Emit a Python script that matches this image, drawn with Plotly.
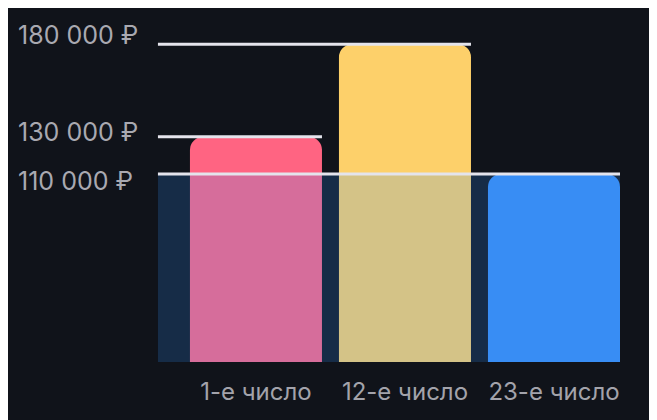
import plotly.graph_objects as go

categories = ["1-е число", "12-е число", "23-е число"]
values = [130000, 180000, 110000]
bar_colors = ["#ff6482", "#fdd06a", "#3a8cf2"]
label_texts = ["130 000 ₽", "180 000 ₽", "110 000 ₽"]
label_shifts = [5, 9, -7]

FONT = "Inter, Roboto, 'DejaVu Sans', sans-serif"
BG = "#10131a"
bw = 0.886
left_pad = 32 / 149.0

fig = go.Figure()
fig.add_trace(go.Bar(
    x=categories, y=values,
    marker=dict(color=bar_colors, line=dict(width=0), cornerradius=13),
    width=bw, hoverinfo="skip",
))

x_left = -bw / 2 - left_pad
shapes = []
base_val = min(values)
shapes.append(dict(type="rect", xref="x", yref="y", x0=x_left, x1=2 + bw / 2,
                   y0=0, y1=base_val, fillcolor="rgba(48,147,255,0.2)",
                   line=dict(width=0), layer="above"))
for i, v in enumerate(values):
    shapes.append(dict(type="line", xref="x", yref="y", x0=x_left, x1=i + bw / 2,
                       y0=v, y1=v, line=dict(color="#e4e4ec", width=3), layer="above"))

annotations = []
for v, t, s in zip(values, label_texts, label_shifts):
    annotations.append(dict(xref="paper", yref="y", x=8 / 657, y=v, yshift=s,
                            text=t, showarrow=False, xanchor="left", yanchor="middle",
                            font=dict(family=FONT, size=25, color="#a9a9b1")))

fig.update_layout(
    width=657, height=420,
    margin=dict(l=0, r=0, t=0, b=66),
    paper_bgcolor=BG, plot_bgcolor=BG,
    showlegend=False,
    bargap=0.114,
    shapes=shapes,
    annotations=annotations,
    xaxis=dict(range=[-1.664, 2.745], showgrid=False, zeroline=False, showline=False,
               ticks="outside", ticklen=8, tickcolor="rgba(0,0,0,0)",
               tickfont=dict(family=FONT, size=24, color="#a3a3ab"), fixedrange=True),
    yaxis=dict(range=[8520, 199509], visible=False, fixedrange=True),
)

fig.write_html("out.html")
